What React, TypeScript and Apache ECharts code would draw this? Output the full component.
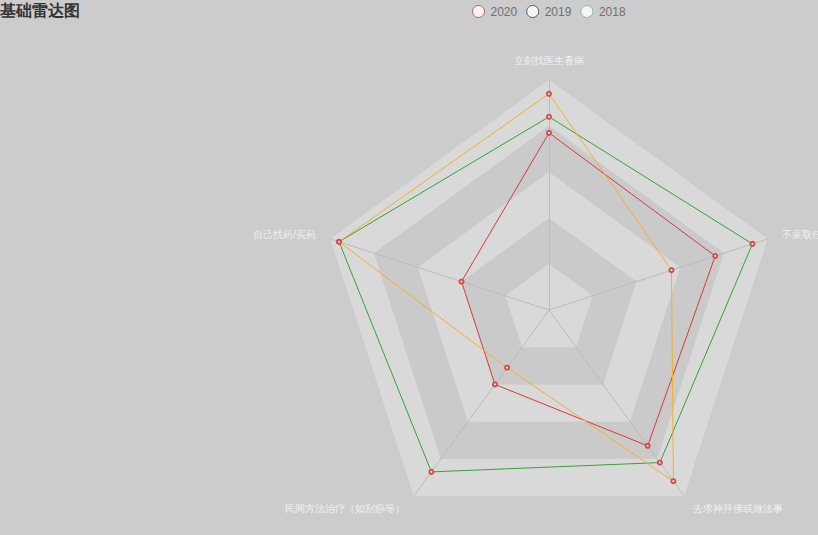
import React, { useEffect, useRef } from "react";
import * as echarts from "echarts";

const indicatorNames = [
  "立刻找医生看病",
  "自己找药/买药",
  "民间方法治疗（如刮痧等）",
  "去求神拜佛或做法事",
  "不采取任何措施",
];
const indicatorMax = [100, 100, 100, 100, 100];
const seriesNames = ["2020", "2019", "2018"];
const values2020 = [77, 40, 40, 73, 76];
const values2019 = [84, 96, 87, 82, 93];
const values2018 = [94, 96, 31, 92, 56];
const lineColors = ["#d83a3a", "#36a336", "#f6ad2b"];
const legendColors = ["#d9534f", "#4a5a6a", "#7fb8bc"];

export default function App() {
  const ref = useRef<HTMLDivElement>(null);
  useEffect(() => {
    document.body.style.margin = "0";
    const chart = echarts.init(ref.current!, null, { renderer: "svg" });
    const allValues = [values2020, values2019, values2018];
    chart.setOption({
      animation: false,
      backgroundColor: "#cccccc",
      title: {
        text: "基础雷达图",
        left: 0,
        top: 2,
        padding: 0,
        textStyle: { fontSize: 16, fontWeight: "bold", color: "#333" },
      },
      legend: {
        left: 472,
        top: 5,
        padding: 0,
        itemWidth: 14,
        itemHeight: 12,
        itemGap: 9,
        textStyle: { color: "#707070", fontSize: 12 },
        data: seriesNames.map((n, i) => ({
          name: n,
          icon: "circle",
          itemStyle: { color: "#f4f4f4", borderColor: legendColors[i], borderWidth: 1 },
        })),
      },
      radar: {
        center: [549, 310],
        radius: 230,
        splitNumber: 5,
        indicator: indicatorNames.map((n, i) => ({ name: n, max: indicatorMax[i] })),
        axisName: { color: "#f2f2f2", fontSize: 10 },
        nameGap: 15,
        axisLine: { lineStyle: { color: "#bbb" } },
        splitLine: { show: false },
        splitArea: {
          show: true,
          areaStyle: { color: ["rgba(250,250,250,0.3)", "rgba(200,200,200,0.3)"] },
        },
      },
      series: [
        {
          type: "radar",
          symbol: "emptyCircle",
          symbolSize: 4,
          data: seriesNames.map((n, i) => ({
            name: n,
            value: allValues[i],
            lineStyle: { color: lineColors[i], width: 1 },
            itemStyle: { color: "#d84a4a", borderColor: "#d84a4a", borderWidth: 1 },
          })),
        },
      ],
    });
    return () => chart.dispose();
  }, []);
  return <div ref={ref} style={{ width: 818, height: 535 }} />;
}
